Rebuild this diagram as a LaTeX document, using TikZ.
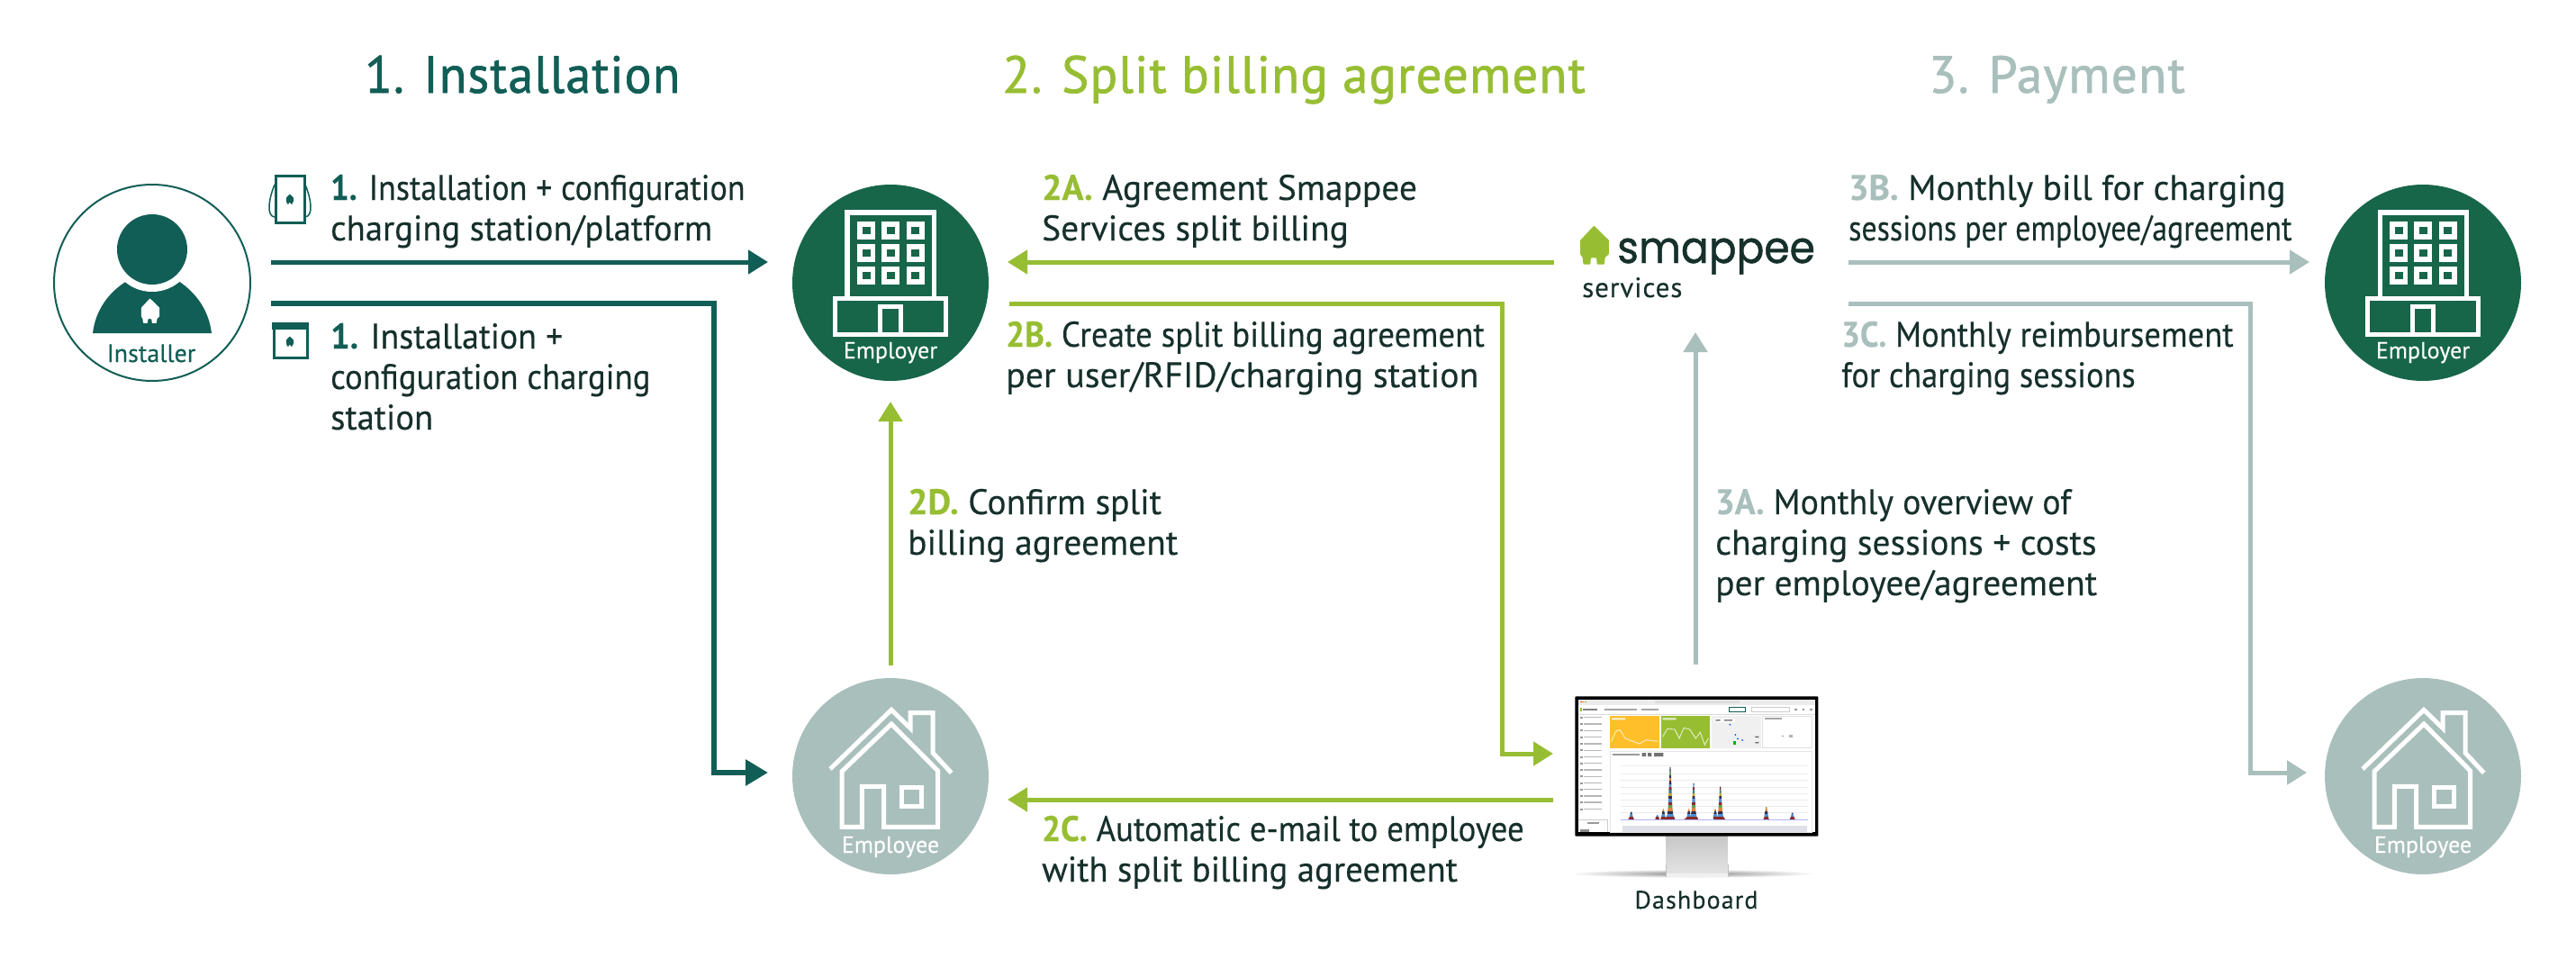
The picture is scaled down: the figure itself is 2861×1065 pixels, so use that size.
\documentclass[tikz,border=0pt]{standalone}
\usepackage{graphicx}
\usepackage{fontspec}
\setmainfont{PT Sans}[FakeBold=0.25]
\newfontfamily\headfont{PT Sans}[FakeBold=1.2,LetterSpace=2]
\newfontfamily\logofont{Poppins}[FakeBold=1.0]
\usetikzlibrary{arrows.meta}
\definecolor{teal1}{HTML}{115E56}
\definecolor{empg}{HTML}{17664A}
\definecolor{lime1}{HTML}{97BE33}
\definecolor{gray1}{HTML}{A9BFBC}
\definecolor{ink}{HTML}{16302B}
\definecolor{dashyellow}{HTML}{FFBF2B}
\tikzset{
  flow/.style={line width=5pt,-{Triangle[length=22pt,width=26pt]}},
  flowteal/.style={flow,draw=teal1},
  flowtealb/.style={line width=6pt,-{Triangle[length=25pt,width=28pt]},draw=teal1},
  flowlime/.style={flow,draw=lime1},
  flowgray/.style={flow,draw=gray1},
  headtext/.style={anchor=base west,inner sep=0pt,font=\fontsize{58}{64}\headfont},
  bodytext/.style={anchor=base west,inner sep=0pt,text=ink,align=left,font=\fontsize{39.5}{45}\selectfont},
  badge/.style={circle,minimum size=218pt,inner sep=0pt},
  iconlabel/.style={inner sep=0pt,anchor=base,font=\fontsize{26}{30}\selectfont},
  wl/.style={line width=5pt,draw=white}
}
\newcommand{\hl}[2]{\textcolor{#1}{\bfseries #2}}
\newcommand{\sx}[2]{\scalebox{#1}[1]{#2}}
\newcommand{\smhouse}[4]{%
  \fill[#4,shift={(#1,#2)},scale=#3,rounded corners=0.6pt]
   (-2,-62)--(46,-15)--(46,30)--(34,40)--(31,63)--(8,63)--(6,42)--(-12,42)--(-14,63)--(-36,63)--(-39,40)--(-46,30)--(-46,-15)--cycle;}
\newcommand{\buildingicon}[3]{%
 \begin{scope}[shift={(#1,#2)},scale=1/3]
  \draw[wl,line width=5.4pt] (243.5,393)--(243.5,108)--(532,108)--(532,393);
  \draw[wl] (203,393) rectangle (572,513);
  \draw[wl] (352,513)--(352,422)--(422,422)--(422,513);
  \foreach \cx in {307,388,470}{\foreach \cy in {168,243,318}{
    \fill[white] (\cx-30,\cy-29) rectangle (\cx+30,\cy+29);
    \fill[#3] (\cx-13,\cy-12) rectangle (\cx+13,\cy+12);
  }}
 \end{scope}}
\newcommand{\houseicon}[2]{%
 \begin{scope}[shift={(#1,#2)},scale=1/3]
  \draw[wl] (186,312)--(390,115)--(453,176)--(453,125)--(528,125)--(528,258)--(590,325);
  \draw[wl] (225,505)--(225,320)--(390,162)--(545,318)--(545,505)--(365,505)--(365,370)--(292,370)--(292,505)--cycle;
  \draw[wl] (425,372) rectangle (490,435);
 \end{scope}}
\newcommand{\spike}[3]{% x, top y, half width
 \begin{scope}
  \clip (#1-#3,512)--(#1-#3*0.55,{512-0.10*(512-#2)})--(#1-7,{512-0.25*(512-#2)})--(#1-1.5,#2)--(#1+1.5,#2)--(#1+7,{512-0.25*(512-#2)})--(#1+#3*0.55,{512-0.10*(512-#2)})--(#1+#3,512)--cycle;
  \foreach \yy/\bandc in {0/8A2A2A,1/4F8FD0,2/2F2F4F,3/D9823B,4/5FA04E,5/8A2A2A,6/4F8FD0,7/2F2F4F,8/C9A227,9/3F7F7F,10/8A2A2A,11/4F8FD0,12/2F2F4F,13/D9823B,14/333355,15/5FA04E,16/2F2F4F,17/6A6A8A,18/2F2F4F}{
    \definecolor{tmpc}{HTML}{\bandc}
    \fill[tmpc] (#1-#3,512-\yy*10) rectangle (#1+#3,502-\yy*10);
  }
 \end{scope}}
\begin{document}
\begin{tikzpicture}[x=1pt,y=-1pt]
\useasboundingbox (0,0) rectangle (2861,1065);
\fill[white] (0,0) rectangle (2861,1065);

% titles
\node[headtext,text=teal1] (t1) at (405,103) {\sx{.967}{1. Installation}};
\node[headtext,text=lime1] (t2) at (1113,103) {\sx{.98}{2. Split billing agreement}};
\node[headtext,text=gray1] (t3) at (2142,103) {\sx{.987}{3. Payment}};

% badges
\node[badge,draw=teal1,line width=2pt] (inst) at (169,314) {};
\node[badge,fill=empg] (emp1) at (989,314) {};
\node[badge,fill=gray1] (ee1) at (989,862) {};
\node[badge,fill=empg] (emp2) at (2691,314) {};
\node[badge,fill=gray1] (ee2) at (2691,862) {};

% installer figure
\fill[teal1] (103,370) .. controls (106,345) and (120,325) .. (141,312) -- (198,312) .. controls (218,325) and (232,345) .. (235,370) -- cycle;
\fill[white] (169,277) circle[radius=47];
\fill[teal1] (169,277) circle[radius=39];
\smhouse{167}{345}{0.22}{white}
\node[iconlabel,text=teal1,font=\fontsize{28}{30}\selectfont] (instl) at (168,402) {Installer};

\buildingicon{860}{200}{empg}
\node[iconlabel,text=white] (emp1l) at (989,398) {Employer};
\buildingicon{2562}{200}{empg}
\node[iconlabel,text=white] (emp2l) at (2691,398) {Employer};
\houseicon{860}{750}
\node[iconlabel,text=white] (ee1l) at (989,947) {Employee};
\houseicon{2562}{750}
\node[iconlabel,text=white] (ee2l) at (2691,947) {Employee};

% device icons
\draw[teal1,line width=3pt] (306,195) rectangle (338,247);
\draw[teal1,line width=1.5pt] (305,205) .. controls (298,222) and (296,240) .. (305,241);
\draw[teal1,line width=1.5pt] (339,205) .. controls (346,222) and (348,240) .. (339,241);
\smhouse{322}{221}{0.09}{teal1}
\draw[teal1,line width=3pt] (304,360) rectangle (341,397);
\fill[teal1] (302,358) rectangle (343,366);
\smhouse{322}{379}{0.09}{teal1}

% logo
\smhouse{1771}{272}{0.345}{lime1}
\node[anchor=base west,inner sep=0pt,text=ink,font=\fontsize{49}{54}\logofont] (logo) at (1796,292) {\sx{.93}{smappee}};
\node[anchor=base west,inner sep=0pt,text=ink,font=\fontsize{31}{34}\selectfont] (serv) at (1757,330) {\addfontfeature{LetterSpace=3}services};

% dashboard
\begin{scope}[shift={(1700,740)},scale=1/3]
  \shade[inner color=black!45,outer color=white,draw=none] (540,690) ellipse[x radius=410,y radius=14];
  \shade[top color=black!22,bottom color=black!10] (452,565) rectangle (655,700);
  \fill[black!6] (450,690) rectangle (657,702);
  \draw[black!25,line width=1pt] (450,660)--(450,702) (657,660)--(657,702);
  \fill[black,rounded corners=1pt] (148,100) rectangle (958,566);
  \fill[white] (158,110) rectangle (948,553);
  \fill[black!8] (158,110) rectangle (948,128);
  \fill[black!14] (415,114) rectangle (695,124);
  \fill[red!70] (165,117) rectangle (170,121);
  \fill[orange] (172,117) rectangle (177,121);
  \fill[lime1] (180,117) rectangle (185,121);
  \fill[lime1] (165,138) rectangle (171,150);
  \fill[black!50] (173,141) rectangle (222,147);
  \foreach \xa in {245,300,370}{\fill[black!35] (\xa,141) rectangle (\xa+55,147);}
  \draw[teal1,line width=.7pt] (661,136) rectangle (714,152);
  \draw[black!20,line width=.7pt] (735,136) rectangle (862,152);
  \foreach \xa in {880,905,930}{\fill[black!40] (\xa,140) rectangle (\xa+8,148);}
  \draw[black!15,line width=.7pt] (158,160)--(948,160);
  \foreach \yy in {170,192,214,236,258,280,302,323,345,367,389,410,432,453,476}{
    \fill[black!40] (166,\yy-3) rectangle (174,\yy+3);
    \fill[black!28] (178,\yy-2) rectangle (238,\yy+2);
  }
  \draw[black!20,line width=.7pt] (158,512)--(255,512)--(255,553);
  \fill[black!40] (188,518) rectangle (228,525);
  \fill[black!45] (165,544) rectangle (195,551);
  \fill[dashyellow] (264,165) rectangle (429,273);
  \fill[lime1] (435,165) rectangle (597,273);
  \draw[white,opacity=.7,line width=1pt] (268,250)--(285,215)--(298,212)--(315,240)--(362,258)--(385,245)--(424,250);
  \draw[white,opacity=.7,line width=1pt] (440,235)--(455,208)--(480,210)--(495,240)--(510,205)--(530,210)--(550,240)--(565,220)--(580,262)--(592,240);
  \fill[white,opacity=.8] (270,172) rectangle (315,178) (440,172) rectangle (485,178);
  \fill[black!6] (603,165) rectangle (767,273);
  \fill[white] (612,173) rectangle (680,187);
  \fill[black!50] (616,177) rectangle (632,182) (645,177) rectangle (672,182);
  \foreach \px/\py in {664/194,682/228,690/241,705/246}{\fill[blue!70!cyan] (\px,\py) circle[radius=3pt];}
  \fill[green!70!black] (674,249) rectangle (684,260);
  \fill[black!60] (748,233) rectangle (760,237) (748,252) rectangle (760,256);
  \draw[black!12,line width=.7pt] (773,165) rectangle (937,271);
  \fill[black!35] (780,172) rectangle (836,178);
  \fill[teal1!70] (840,232) circle[radius=2.5pt];
  \fill[black!30] (862,228) rectangle (872,237);
  \draw[black!10,line width=.7pt] (265,282) rectangle (937,553);
  \fill[black!40] (272,292) rectangle (364,298);
  \fill[black!55] (371,288) rectangle (384,300) (390,288) rectangle (403,300) (411,288) rectangle (442,300);
  \foreach \yy in {332,358,380,402,424,445,466,487}{\draw[black!8,line width=.6pt] (300,\yy)--(925,\yy);}
  \spike{335}{485}{18}
  \spike{422}{495}{10}
  \spike{442}{475}{15}
  \spike{465}{335}{18}
  \spike{527}{475}{24}
  \spike{543}{390}{18}
  \spike{615}{475}{9}
  \spike{632}{400}{18}
  \spike{785}{468}{14}
  \spike{872}{488}{16}
  \draw[blue!30,line width=.7pt] (300,512)--(925,512);
  \fill[blue!25!black!12] (305,532) rectangle (920,553);
\end{scope}
\node[anchor=base,inner sep=0pt,text=ink,font=\fontsize{28}{34}\selectfont] (dashl) at (1884,1009) {\addfontfeature{LetterSpace=4}Dashboard};

% connector ends
\coordinate (a1s) at (301,291);
\coordinate (a1e) at (853,291);
\coordinate (a2s) at (301,337);
\coordinate (a2c) at (793,337);
\coordinate (a2e) at (853,858);
\coordinate (lAs) at (1726,291);
\coordinate (lAe) at (1119,291);
\coordinate (lBs) at (1121,337);
\coordinate (lBc) at (1668,337);
\coordinate (lBe) at (1725,837);
\coordinate (lCs) at (1725,888);
\coordinate (lCe) at (1119,888);
\coordinate (lDs) at (989,739);
\coordinate (lDe) at (989,446);
\coordinate (gAs) at (1883,738);
\coordinate (gAe) at (1883,369);
\coordinate (gBs) at (2053,291);
\coordinate (gBe) at (2565,291);
\coordinate (gCs) at (2053,337);
\coordinate (gCc) at (2499,337);
\coordinate (gCe) at (2562,858);

\draw[flowteal] (a1s)--(a1e);
\draw[flowtealb] (a2s)--(a2c)|-(a2e);
\draw[flowlime] (lAs)--(lAe);
\draw[flowlime] (lBs)--(lBc)|-(lBe);
\draw[flowlime] (lCs)--(lCe);
\draw[flowlime] (lDs)--(lDe);
\draw[flowgray] (gAs)--(gAe);
\draw[flowgray] (gBs)--(gBe);
\draw[flowgray] (gCs)--(gCc)|-(gCe);

% labels (the anchor is the baseline of the last line)
\node[bodytext] (l1a) at (367,267) {\sx{.916}{\hl{teal1}{1.} Installation + configuration}\\\sx{.98}{charging station/platform}};
\node[bodytext] (l1b) at (367,477) {\sx{.96}{\hl{teal1}{1.} Installation +}\\\sx{.933}{configuration charging}\\\sx{.98}{station}};
\node[bodytext] (l2a) at (1157,267) {\hl{lime1}{2A.} Agreement Smappee\\Services split billing};
\node[bodytext] (l2b) at (1117,430) {\sx{.935}{\hl{lime1}{2B.} Create split billing agreement}\\\sx{1.01}{per user/RFID/charging station}};
\node[bodytext] (l2c) at (1157,979) {\sx{.933}{\hl{lime1}{2C.} Automatic e-mail to employee}\\\sx{.984}{with split billing agreement}};
\node[bodytext] (l2d) at (1008,616) {\hl{lime1}{2D.} Confirm split\\billing agreement};
\node[bodytext] (l3a) at (1905,661) {\sx{.96}{\hl{gray1}{3A.} Monthly overview of}\\charging sessions + costs\\per employee/agreement};
\node[bodytext] (l3b) at (2053,267) {\hl{gray1}{3B.} Monthly bill for charging\\\sx{.857}{sessions per employee/agreement}};
\node[bodytext] (l3c) at (2045,430) {\sx{.926}{\hl{gray1}{3C.} Monthly reimbursement}\\\sx{.92}{for charging sessions}};
\end{tikzpicture}
\end{document}
